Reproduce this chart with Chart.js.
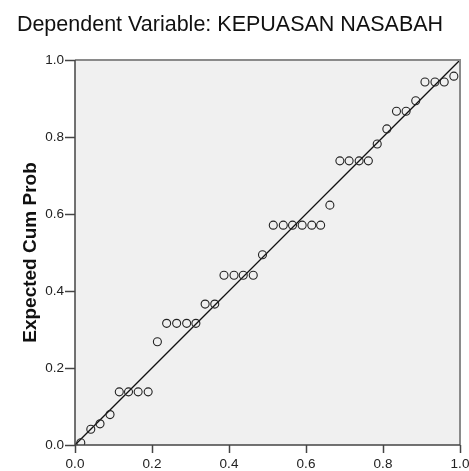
<!DOCTYPE html>
<html>
<head>
<meta charset="utf-8">
<script src="https://cdn.jsdelivr.net/npm/chart.js@4/dist/chart.umd.min.js"></script>
<style>
  html, body { margin: 0; padding: 0; background: #fff; }
  #wrap { width: 469px; height: 471px; }
</style>
</head>
<body>
<div id="wrap"><canvas id="ppChart" width="469" height="471"></canvas></div>
<script>
const observedProb = [0.015, 0.041, 0.065, 0.091, 0.115, 0.139, 0.164, 0.190, 0.214, 0.238,
                      0.264, 0.290, 0.314, 0.338, 0.363, 0.387, 0.413, 0.437, 0.463, 0.487,
                      0.515, 0.541, 0.565, 0.590, 0.615, 0.638, 0.662, 0.688, 0.712, 0.738,
                      0.762, 0.785, 0.810, 0.835, 0.860, 0.885, 0.909, 0.935, 0.959, 0.984];
const expectedProb = [0.006, 0.041, 0.055, 0.079, 0.138, 0.138, 0.138, 0.138, 0.268, 0.316,
                      0.316, 0.316, 0.316, 0.366, 0.366, 0.441, 0.441, 0.441, 0.441, 0.494,
                      0.571, 0.571, 0.571, 0.571, 0.571, 0.571, 0.623, 0.738, 0.738, 0.738,
                      0.738, 0.782, 0.821, 0.867, 0.867, 0.894, 0.943, 0.943, 0.943, 0.958];
const refLine = [0, 1];
const tickValues = [0, 0.2, 0.4, 0.6, 0.8, 1.0];
const chartTitle = "Dependent Variable: KEPUASAN NASABAH";
const yTitle = "Expected Cum Prob";

let pts = observedProb.map((v, i) => ({ x: v, y: expectedProb[i] }));

// grey plot background + frame
const frame = {
    id: "frame",
    beforeDatasetsDraw(chart) {
        const a = chart.chartArea, c = chart.ctx;
        c.save();
        c.fillStyle = "#f0f0f0";
        c.fillRect(a.left, a.top, a.right - a.left, a.bottom - a.top);
        c.restore();
    },
    afterDraw(chart) {
        const a = chart.chartArea, c = chart.ctx;
        c.save();
        c.strokeStyle = "#8a8a8a";
        c.lineWidth = 2;
        c.beginPath();
        c.moveTo(a.left, a.top);
        c.lineTo(a.right, a.top);
        c.lineTo(a.right, a.bottom);
        c.stroke();
        c.strokeStyle = "#444";
        c.lineWidth = 1.5;
        c.beginPath();
        c.moveTo(a.left, a.top);
        c.lineTo(a.left, a.bottom);
        c.lineTo(a.right, a.bottom);
        c.stroke();
        c.restore();
    }
};

function useTicks(scale) {
    scale.ticks = tickValues.map(v => ({ value: v }));
}

new Chart(document.getElementById("ppChart").getContext("2d"), {
    type: "scatter",
    data: {
        datasets: [{
            data: pts,
            pointStyle: "circle",
            pointRadius: 4,
            pointHoverRadius: 4,
            pointBorderWidth: 1.1,
            borderColor: "#222",
            backgroundColor: "rgba(0,0,0,0)",
            clip: 0
        }, {
            type: "line",
            data: refLine.map(v => ({ x: v, y: v })),
            borderColor: "#111",
            borderWidth: 1.3,
            pointRadius: 0,
            fill: false
        }]
    },
    options: {
        responsive: false,
        animation: false,
        devicePixelRatio: 1,
        layout: { padding: { left: 0, right: 9, top: 0, bottom: 0 } },
        plugins: {
            legend: { display: false },
            tooltip: { enabled: false },
            title: {
                display: true,
                text: chartTitle,
                color: "#111",
                font: { family: "Liberation Sans, Arial", size: 21.5, weight: "normal" },
                padding: { top: 12.5, bottom: 21.7 }
            }
        },
        scales: {
            x: {
                type: "linear",
                min: 0, max: 1,
                afterBuildTicks: useTicks,
                afterFit(s) { s.height = 26; s.paddingLeft = 0; s.paddingRight = 0; },
                grid: { drawOnChartArea: false, tickLength: 8, tickColor: "#444", tickWidth: 1.5 },
                border: { display: false },
                ticks: {
                    color: "#222", padding: 3, maxRotation: 0,
                    font: { family: "Liberation Sans, Arial", size: 13.5 },
                    callback: v => v.toFixed(1)
                }
            },
            y: {
                type: "linear",
                min: 0, max: 1,
                afterBuildTicks: useTicks,
                afterFit(s) { s.width = 75; s.paddingTop = 0; s.paddingBottom = 0; },
                grid: { drawOnChartArea: false, tickLength: 10, tickColor: "#444", tickWidth: 1.5 },
                border: { display: false },
                title: {
                    display: true,
                    text: yTitle,
                    color: "#111",
                    font: { family: "Liberation Sans, Arial", size: 19, weight: "bold" },
                    padding: { top: 19, bottom: 0 }
                },
                ticks: {
                    color: "#222", padding: 1,
                    font: { family: "Liberation Sans, Arial", size: 13.5 },
                    callback: v => v.toFixed(1)
                }
            }
        }
    },
    plugins: [frame]
});
</script>
</body>
</html>
